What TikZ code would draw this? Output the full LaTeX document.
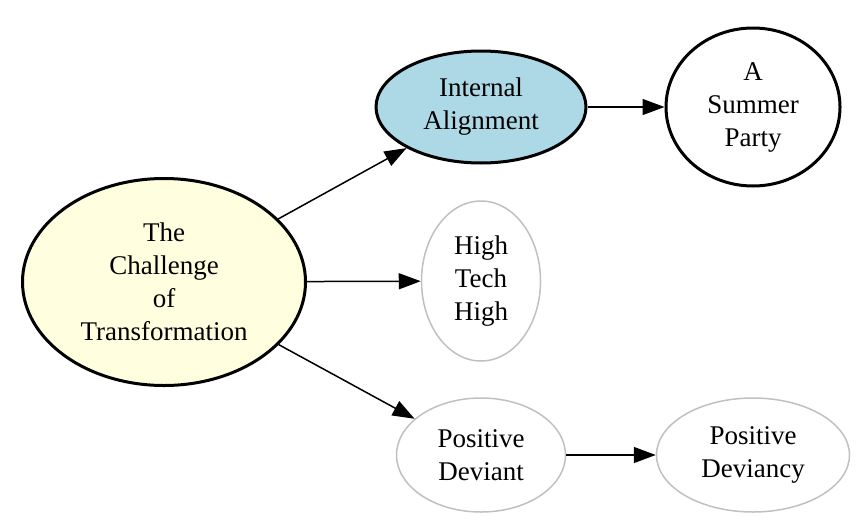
\documentclass[tikz,border=0pt]{standalone}
\usepackage{fontspec}
\setmainfont{Liberation Serif}
\usetikzlibrary{shapes.geometric,arrows.meta}
\definecolor{lyellow}{HTML}{FFFFE0}
\definecolor{lblue}{HTML}{ADD8E6}
\definecolor{lgray}{HTML}{C0C0C0}
\begin{document}
\begin{tikzpicture}[x=0.5pt,y=-0.5pt,
  base/.style={ellipse,inner sep=0pt,align=center,font=\fontsize{13.5}{16.5}\selectfont},
  boldnode/.style={base,draw=black,line width=1.5pt},
  grey/.style={base,draw=lgray,line width=0.75pt},
  edge/.style={draw=black,line width=0.75pt,-{Triangle[length=11pt,width=8pt]}}]
\useasboundingbox (0,0) rectangle (866,530);
\node[boldnode,fill=lyellow,minimum width=141.5pt,minimum height=103.5pt] (ch) at (164,282) {The\\Challenge\\of\\Transformation};
\node[boldnode,fill=lblue,minimum width=105pt,minimum height=56pt] (ia) at (481,107) {Internal\\Alignment};
\node[boldnode,fill=white,minimum width=87pt,minimum height=79pt] (sp) at (753,107) {A\\Summer\\Party};
\node[grey,minimum width=59.5pt,minimum height=80pt] (hth) at (481,281) {High\\Tech\\High};
\node[grey,minimum width=84.5pt,minimum height=57pt] (pd) at (481,455) {Positive\\Deviant};
\node[grey,minimum width=96.5pt,minimum height=57pt] (pdy) at (753,455) {Positive\\Deviancy};
\draw[edge] (ch) -- (ia);
\draw[edge] (ch) -- (hth);
\draw[edge] (ch) -- (pd);
\draw[edge] (ia) -- (sp);
\draw[edge] (pd) -- (pdy);
\end{tikzpicture}
\end{document}
